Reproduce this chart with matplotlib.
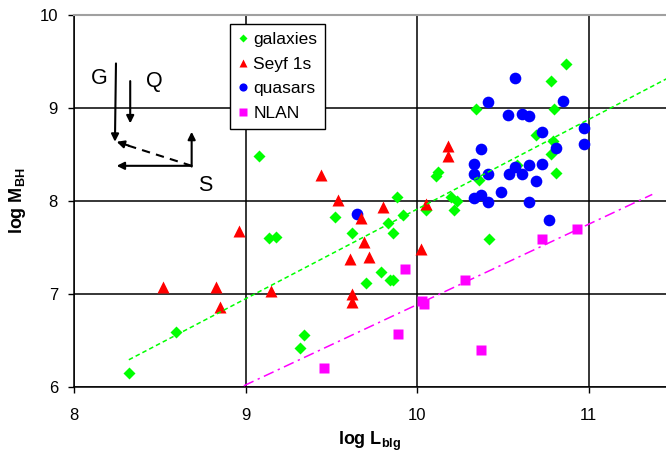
import numpy as np
import matplotlib
matplotlib.use('Agg')
import matplotlib.pyplot as plt

plt.rcParams['font.family'] = ['Liberation Sans', 'DejaVu Sans']
plt.rcParams['mathtext.fontset'] = 'custom'
plt.rcParams['mathtext.rm'] = 'Liberation Sans:bold'
plt.rcParams['mathtext.bf'] = 'Liberation Sans:bold'
plt.rcParams['mathtext.it'] = 'Liberation Sans:bold'

# galaxies (log L_blg, log M_BH)
gal_x = [8.32, 8.594, 9.08, 9.137, 9.175, 9.32, 9.34, 9.52, 9.62, 9.70, 9.79, 9.84,
         9.86, 9.83, 9.86, 9.88, 9.92, 10.05, 10.11, 10.12, 10.20, 10.23, 10.215,
         10.34, 10.36, 10.42, 10.58, 10.69, 10.78, 10.79, 10.80, 10.78, 10.81, 10.87]
gal_y = [6.15, 6.59, 8.48, 7.60, 7.61, 6.42, 6.56, 7.83, 7.65, 7.12, 7.23, 7.15,
         7.15, 7.76, 7.66, 8.04, 7.85, 7.90, 8.27, 8.31, 8.04, 8.00, 7.90,
         8.99, 8.22, 7.59, 8.39, 8.71, 8.51, 8.64, 8.99, 9.29, 8.30, 9.47]

# Seyfert 1s
sey_x = [8.52, 8.83, 8.85, 8.96, 9.15, 9.44, 9.54, 9.61, 9.62, 9.62, 9.675, 9.69,
         9.72, 9.80, 10.025, 10.05, 10.18, 10.18]
sey_y = [7.07, 7.07, 6.86, 7.68, 7.03, 8.28, 8.01, 7.37, 7.00, 6.91, 7.82, 7.56,
         7.40, 7.93, 7.48, 7.97, 8.59, 8.48]

# quasars
qso_x = [9.65, 10.33, 10.33, 10.33, 10.37, 10.37, 10.41, 10.41, 10.41, 10.49, 10.53,
         10.535, 10.57, 10.57, 10.61, 10.61, 10.65, 10.65, 10.65, 10.69, 10.73, 10.73,
         10.77, 10.81, 10.85, 10.97, 10.97]
qso_y = [7.86, 8.40, 8.29, 8.03, 8.06, 8.56, 7.99, 8.29, 9.07, 8.095, 8.93,
         8.29, 8.36, 9.32, 8.94, 8.29, 8.91, 8.39, 7.99, 8.21, 8.74, 8.40,
         7.79, 8.57, 9.08, 8.78, 8.61]

# NLAN
nlan_x = [9.46, 9.89, 9.93, 10.03, 10.04, 10.28, 10.37, 10.73, 10.93]
nlan_y = [6.20, 6.57, 7.27, 6.92, 6.89, 7.15, 6.40, 7.59, 7.70]

# fit lines (end points)
fit_gal_x = [8.32, 11.5]
fit_gal_y = [6.29, 9.36]
fit_nlan_x = [8.99, 11.37]
fit_nlan_y = [6.01, 8.07]

fig = plt.figure(figsize=(6.66, 4.59), dpi=100)
ax = fig.add_axes([0.111, 0.1575, 0.889, 0.8095])

ax.plot(gal_x, gal_y, 'D', color='#00ff00', ms=6.2, mec='none', label='galaxies', zorder=3)
ax.plot(sey_x, sey_y, '^', color='#ff0000', ms=8.3, mec='none', label='Seyf 1s', zorder=5)
ax.plot(qso_x, qso_y, 'o', color='#0000ff', ms=8.4, mec='none', label='quasars', zorder=4)
ax.plot(nlan_x, nlan_y, 's', color='#ff00ff', ms=7.8, mec='none', label='NLAN', zorder=6)

ax.plot(fit_gal_x, fit_gal_y, color='#00ff00', lw=1.1, dashes=(3, 2), zorder=7)
ax.plot(fit_nlan_x, fit_nlan_y, color='#ff00ff', lw=1.1, dashes=(7, 3, 1.5, 3), zorder=7)

# G, Q, S arrows
arr = dict(arrowstyle='-|>', color='k', lw=1.5, mutation_scale=11, shrinkA=0, shrinkB=0)
ax.annotate('', xy=(8.239, 8.637), xytext=(8.245, 9.48), arrowprops=arr, zorder=8)
ax.annotate('', xy=(8.328, 8.835), xytext=(8.328, 9.29), arrowprops=arr, zorder=8)
ax.annotate('', xy=(8.249, 8.378), xytext=(8.686, 8.378), arrowprops=arr, zorder=8)
ax.annotate('', xy=(8.686, 8.744), xytext=(8.686, 8.370), arrowprops=arr, zorder=8)
ax.plot([8.686, 8.30], [8.378, 8.605], color='k', lw=1.5, dashes=(4, 3), zorder=8)
ax.annotate('', xy=(8.249, 8.637), xytext=(8.32, 8.595), arrowprops=arr, zorder=8)
ax.text(8.147, 9.319, 'G', fontsize=15.5, ha='center', va='center')
ax.text(8.468, 9.282, 'Q', fontsize=15.5, ha='center', va='center')
ax.text(8.767, 8.171, 'S', fontsize=15.5, ha='center', va='center')

ax.set_xlim(8, 11.45)
ax.set_ylim(6, 10)
ax.set_xticks([8, 9, 10, 11])
ax.set_yticks([6, 7, 8, 9, 10])
ax.grid(True, color='black', lw=1.1)
ax.set_axisbelow(True)
ax.tick_params(direction='out', length=4.5, width=1, labelsize=12)
ax.tick_params(axis='x', pad=11)
ax.tick_params(axis='y', pad=7)
ax.spines['right'].set_visible(False)
ax.spines['top'].set_color('#a0a0a0')
ax.spines['top'].set_linewidth(1.5)
for s in ['left', 'bottom']:
    ax.spines[s].set_linewidth(1.1)

ax.set_xlabel(r'log L$_{\mathrm{blg}}$', fontsize=13, fontweight='bold', labelpad=5)
ax.set_ylabel(r'log M$_{\mathrm{BH}}$', fontsize=13, fontweight='bold', labelpad=8)

leg = ax.legend(loc='upper left', bbox_to_anchor=(0.2635, 0.976), borderaxespad=0,
                fontsize=12.5, markerscale=0.7, handlelength=0.6, handletextpad=0.3,
                labelspacing=0.55, borderpad=0.45, fancybox=False, framealpha=1,
                edgecolor='black')
leg.get_frame().set_linewidth(1.0)
leg.set_zorder(10)

fig.savefig('out.png', dpi=100)
